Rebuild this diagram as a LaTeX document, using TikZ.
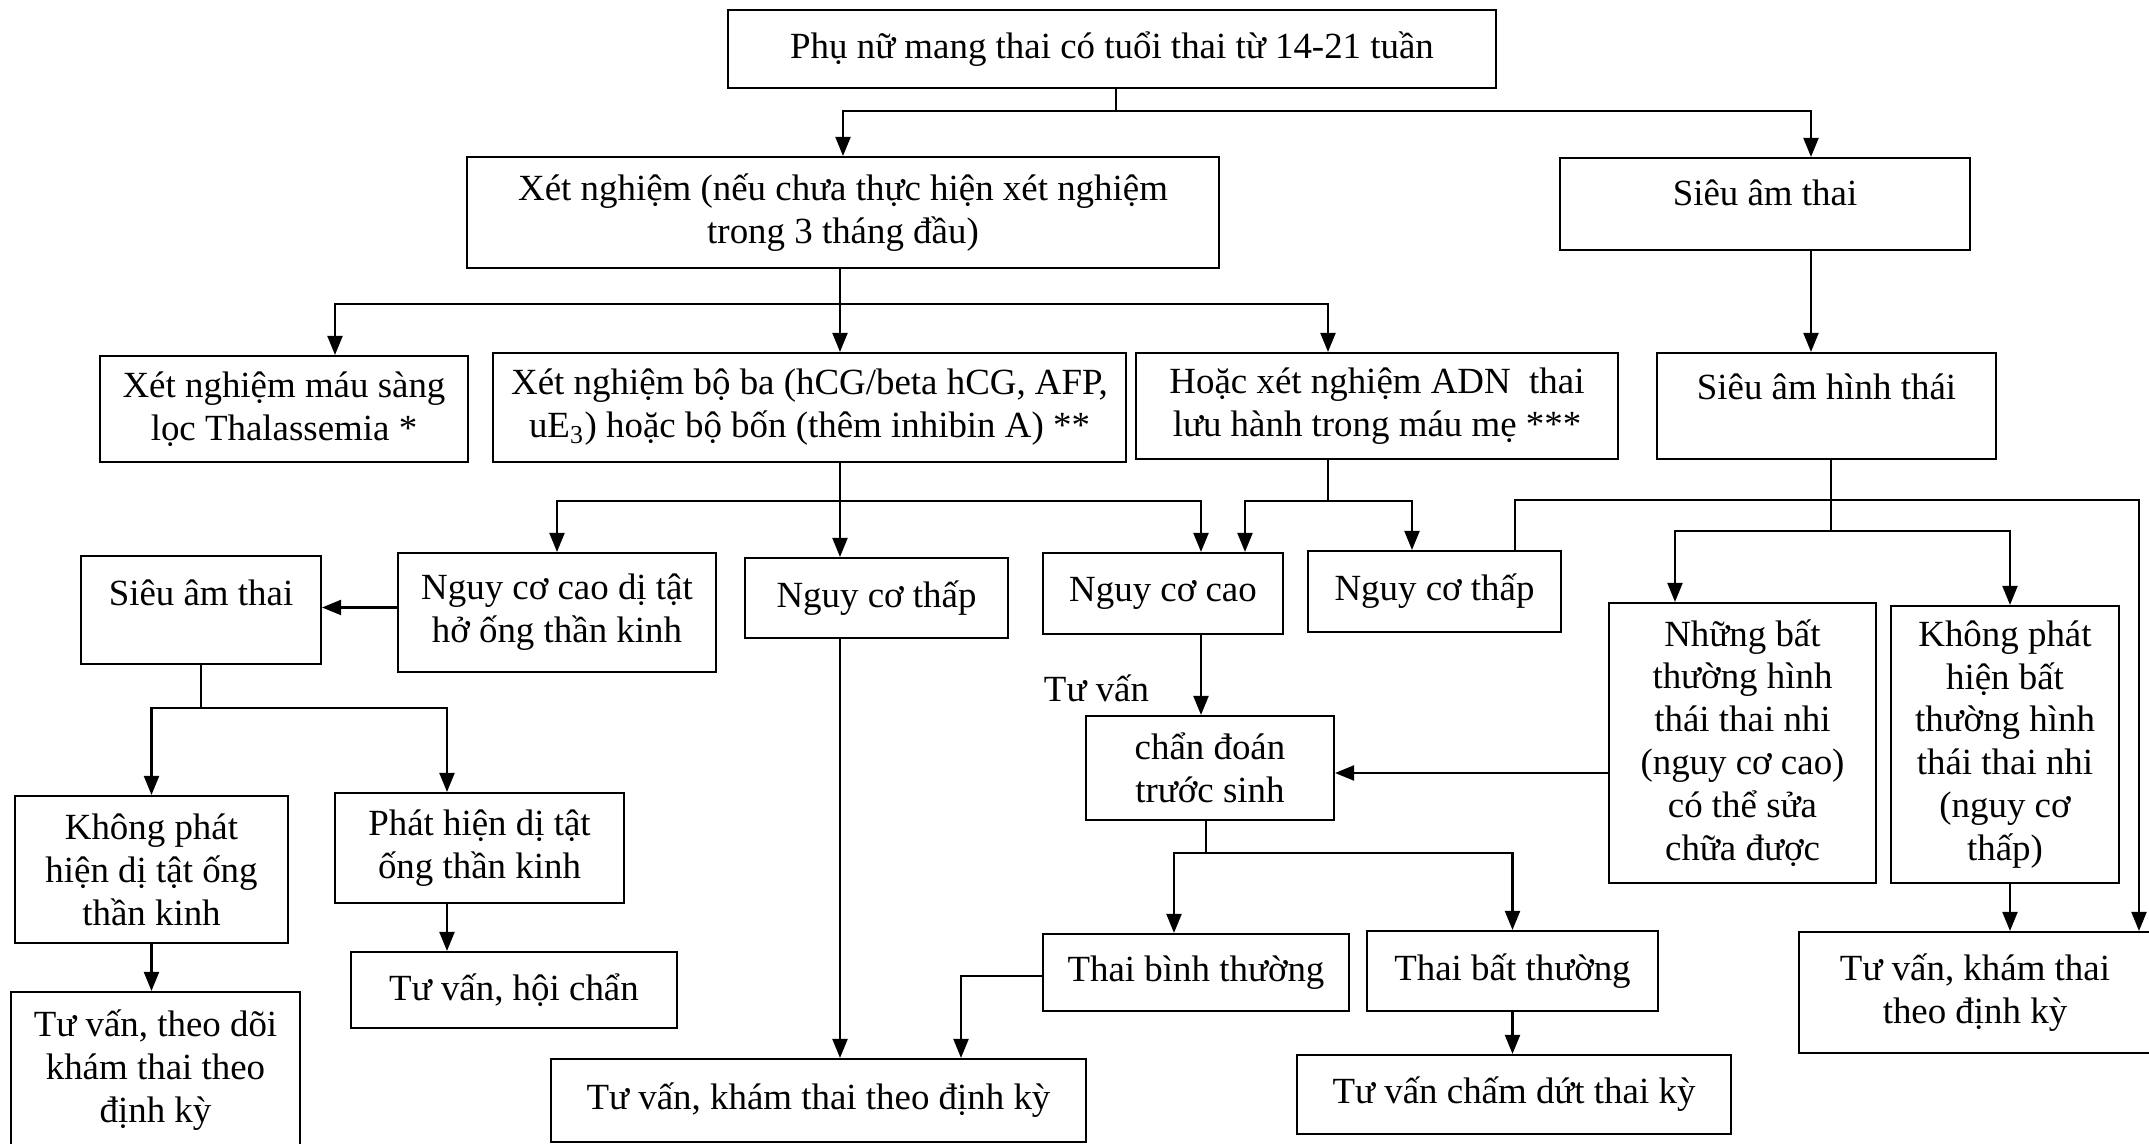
\documentclass[tikz,border=0pt]{standalone}
\usepackage{fontspec}
\setmainfont{Liberation Serif}
\usepackage{tikz}
\usetikzlibrary{arrows.meta}

\begin{document}
\begin{tikzpicture}[
  box/.style={draw, line width=0.6pt, rectangle, align=center, inner sep=1pt, font=\fontsize{10.5}{12.2}\selectfont},
  arr/.style={-{Triangle[length=1.9mm, width=1.5mm]}, line width=0.6pt},
  ln/.style={line width=0.6pt},
  lbl/.style={font=\fontsize{10.5}{12.2}\selectfont, inner sep=0pt}
]
\useasboundingbox (0,0) rectangle (21.49,-11.44);

\node[box, minimum width=7.68cm, minimum height=0.78cm] (top) at (11.12,-0.49) {Phụ nữ mang thai có tuổi thai từ 14-21 tuần};

\node[box, minimum width=7.52cm, minimum height=1.11cm] (xn) at (8.43,-2.125) {Xét nghiệm (nếu chưa thực hiện xét nghiệm\\ trong 3 tháng đầu)};
\node[box, minimum width=4.10cm, minimum height=0.92cm, text depth=0.22cm] (satR) at (17.65,-2.04) {Siêu âm thai};

\node[box, minimum width=3.68cm, minimum height=1.06cm] (thal) at (2.84,-4.09) {Xét nghiệm máu sàng\\ lọc Thalassemia *};
\node[box, minimum width=6.33cm, minimum height=1.09cm] (bb) at (8.095,-4.075) {Xét nghiệm bộ ba (hCG/beta hCG, AFP,\\ uE\textsubscript{3}) hoặc bộ bốn (thêm inhibin A) **};
\node[box, minimum width=4.82cm, minimum height=1.06cm] (adn) at (13.77,-4.06) {Hoặc xét nghiệm ADN\ \ thai\\ lưu hành trong máu mẹ ***};
\node[box, minimum width=3.39cm, minimum height=1.06cm, text depth=0.38cm] (saht) at (18.265,-4.06) {Siêu âm hình thái};

\node[box, minimum width=2.40cm, minimum height=1.08cm, text depth=0.34cm] (satL) at (2.01,-6.10) {Siêu âm thai};
\node[box, minimum width=3.18cm, minimum height=1.19cm] (nccdt) at (5.57,-6.125) {Nguy cơ cao dị tật\\ hở ống thần kinh};
\node[box, minimum width=2.63cm, minimum height=0.80cm] (nctL) at (8.765,-5.98) {Nguy cơ thấp};
\node[box, minimum width=2.40cm, minimum height=0.81cm] (ncc) at (11.63,-5.935) {Nguy cơ cao};
\node[box, minimum width=2.53cm, minimum height=0.81cm] (nctR) at (14.345,-5.915) {Nguy cơ thấp};

\node[box, minimum width=2.67cm, minimum height=2.80cm] (nbt) at (17.425,-7.43) {Những bất\\ thường hình\\ thái thai nhi\\ (nguy cơ cao)\\ có thể sửa\\ chữa được};
\node[box, minimum width=2.28cm, minimum height=2.77cm] (kphb) at (20.05,-7.445) {Không phát\\ hiện bất\\ thường hình\\ thái thai nhi\\ (nguy cơ\\ thấp)};

\node[lbl] (tuvan) at (10.965,-6.88) {Tư vấn};
\node[box, minimum width=2.48cm, minimum height=1.04cm] (cdts) at (12.10,-7.68) {chẩn đoán\\ trước sinh};

\node[box, minimum width=2.73cm, minimum height=1.47cm] (kpdt) at (1.515,-8.695) {Không phát\\ hiện dị tật ống\\ thần kinh};
\node[box, minimum width=2.89cm, minimum height=1.10cm] (phdt) at (4.795,-8.48) {Phát hiện dị tật\\ ống thần kinh};

\node[box, minimum width=3.06cm, minimum height=0.77cm] (tbt) at (11.96,-9.725) {Thai bình thường};
\node[box, minimum width=2.91cm, minimum height=0.80cm] (tbat) at (15.125,-9.71) {Thai bất thường};
\node[box, minimum width=3.52cm, minimum height=1.21cm] (tvkR) at (19.75,-9.925) {Tư vấn, khám thai\\ theo định kỳ};

\node[box, minimum width=2.89cm, minimum height=1.56cm] (tvtd) at (1.555,-10.70) {Tư vấn, theo dõi\\ khám thai theo\\ định kỳ};
\node[box, minimum width=3.26cm, minimum height=0.76cm] (tvhc) at (5.14,-9.90) {Tư vấn, hội chẩn};
\node[box, minimum width=5.35cm, minimum height=0.83cm] (tvkM) at (8.185,-11.005) {Tư vấn, khám thai theo định kỳ};
\node[box, minimum width=4.34cm, minimum height=0.79cm] (tvcd) at (15.14,-10.945) {Tư vấn chấm dứt thai kỳ};

\coordinate (j1) at (11.16,-1.11);
\coordinate (j2) at (8.40,-3.04);
\coordinate (j3) at (8.40,-5.01);
\coordinate (j4) at (13.28,-5.01);
\coordinate (j5) at (2.01,-7.08);
\coordinate (j6) at (12.06,-8.53);
\coordinate (j7) at (18.31,-5.31);
\coordinate (j8) at (21.39,-5.00);

\draw[ln] (top.south -| j1) -- (j1);
\draw[arr] (j1) -| (xn.north);
\draw[arr] (j1) -| ([xshift=4.6mm]satR.north);
\draw[ln] (xn.south -| j2) -- (j2);
\draw[arr] (j2) -| ([xshift=5.1mm]thal.north);
\draw[arr] (j2) -- (bb.north -| j2);
\draw[arr] (j2) -| ([xshift=-4.9mm]adn.north);
\draw[arr] ([xshift=4.6mm]satR.south) -- ([xshift=4.6mm]satR.south |- saht.north);

\draw[ln] (bb.south -| j3) -- (j3);
\draw[arr] (j3) -| (nccdt.north);
\draw[arr] (j3) -- (nctL.north -| j3);
\draw[arr] (j3) -| ([xshift=3.8mm]ncc.north);
\draw[ln] (adn.south -| j4) -- (j4);
\draw[arr] (j4) -| ([xshift=8.2mm]ncc.north);
\draw[arr] (j4) -| ([xshift=-2.25mm]nctR.north);

\draw[arr] ([yshift=0.5mm]nccdt.west) -- ([yshift=0.5mm]nccdt.west -| satL.east);
\draw[ln] (satL.south) -- (j5);
\draw[arr] (j5) -| (kpdt.north);
\draw[arr] (j5) -| ([xshift=-3.25mm]phdt.north);
\draw[arr] (kpdt.south) -- (kpdt.south |- tvtd.north);
\draw[arr] ([xshift=-3.25mm]phdt.south) -- ([xshift=-3.25mm]phdt.south |- tvhc.north);
\draw[arr] (nctL.south -| j3) -- (tvkM.north -| j3);

\draw[arr] ([xshift=3.8mm]ncc.south) -- ([xshift=3.8mm]ncc.south |- cdts.north);
\draw[arr] ([yshift=-3mm]nbt.west) -- ([yshift=-3mm]nbt.west -| cdts.east);
\draw[ln] (cdts.south -| j6) -- (j6);
\draw[arr] (j6) -| ([xshift=-2.2mm]tbt.north);
\draw[arr] (j6) -| (tbat.north);
\draw[arr] ([yshift=-0.35mm]tbt.west) -| ([xshift=14.25mm]tvkM.north);
\draw[arr] (tbat.south) -- (tbat.south |- tvcd.north);

\draw[ln] (saht.south -| j7) -- (j7);
\draw[arr] (j7) -| ([xshift=-6.75mm]nbt.north);
\draw[arr] (j7) -| ([xshift=0.5mm]kphb.north);
\draw[arr] ([xshift=8.05mm]nctR.north) |- (j8) -- (j8 |- tvkR.north);
\draw[arr] ([xshift=0.5mm]kphb.south) -- ([xshift=0.5mm]kphb.south |- tvkR.north);

\end{tikzpicture}
\end{document}
